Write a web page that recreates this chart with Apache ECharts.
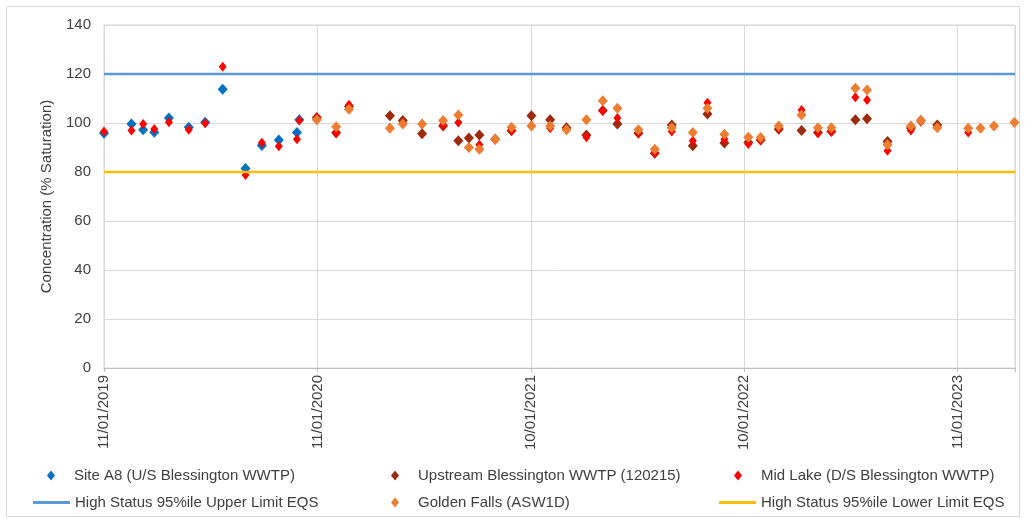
<!DOCTYPE html>
<html>
<head>
    <meta charset="utf-8">
    <title>Dissolved Oxygen</title>
    <script src="https://cdn.jsdelivr.net/npm/echarts@6/dist/echarts.min.js"></script>
    <style>
        html, body { margin: 0; padding: 0; background: #fff; }
        #main { width: 1025px; height: 518px; }
    </style>
</head>
<body>
<div id="main"></div>
<script type="text/javascript">
    // x values are days counted from 11/01/2019
    var tickLabels = ['11/01/2019', '11/01/2020', '10/01/2021', '10/01/2022', '11/01/2023'];
    var xMin = 0;
    var xMax = 1558;

    var siteA8Days = [0, 47, 67, 86, 111, 145, 173, 203, 242, 270, 299, 330, 334];
    var siteA8 = [95.8, 99.6, 97.2, 96.2, 102.0, 98.3, 100.3, 113.8, 81.4, 90.8, 93.1, 96.1, 101.3];
    var midLakeEarly = [96.5, 96.9, 99.6, 97.6, 100.3, 97.2, 99.9, 123.0, 78.8, 91.9, 90.5, 93.4, 101.0];

    var laterDays = [364, 397, 419, 489, 511, 544, 580, 606, 624, 642, 669, 697, 731, 763, 791, 825, 853, 878, 914, 942,
        971, 1007, 1032, 1061, 1102, 1123, 1154, 1193, 1221, 1244, 1285, 1305, 1340, 1380, 1397, 1425, 1478, 1499, 1522, 1557];
    var upstream = [102.2, 96, 106.7, 103.0, 101.0, 95.6, 98.8, 92.8, 93.9, 95.1, 93.4, 96.8, 103.0, 101.3, 98.1, 95.1, 105.1, 99.6, 95.8, 87.7,
        99.2, 90.7, 103.7, 91.8, 92, 93.1, 97.5, 96.9, 96.1, 96.5, 101.3, 101.7, 92.4, 98, 101, 99.2, null, null, null, null];
    var midLakeLate = [102, 95.8, 107.4, 98, 100, 99.5, 99.3, 100.2, 90, 91.1, 93.4, 97, 99, 97.9, 97.5, 94.2, 105, 102.0, 96, 88,
        96.5, 92.8, 108.3, 93.4, 91.4, 93, 98, 105.3, 95.8, 96.5, 110.5, 109.4, 88.7, 96.9, 100.5, 98.5, 96.1, null, null, null];
    var goldenFalls = [101.3, 98.5, 105.6, 97.9, 99.6, 99.6, 101.0, 103.3, 90.0, 89.3, 93.4, 98.3, 98.8, 98.8, 97.2, 101.3, 109.1, 106.0, 97.2, 89.3,
        98.1, 96.1, 106.0, 95.4, 94.2, 94.1, 98.8, 103.3, 98.1, 98.1, 114.2, 113.5, 91.1, 98.8, 101.0, 98.1, 97.9, 97.9, 98.8, 100.2];

    var upperLimit = 120;
    var lowerLimit = 80;

    var names = [
        'Site A8 (U/S Blessington WWTP)',
        'Upstream Blessington WWTP (120215)',
        'Mid Lake (D/S Blessington WWTP)',
        'High Status 95%ile Upper Limit EQS',
        'Golden Falls (ASW1D)',
        'High Status 95%ile Lower Limit EQS'
    ];

    function pairs(days, vals) {
        var out = [];
        for (var i = 0; i < days.length; i++) {
            if (vals[i] !== null) out.push([days[i], vals[i]]);
        }
        return out;
    }

    var font = 'Liberation Sans, Arial, sans-serif';
    var textColor = '#404040';

    // legend: 3 columns x 2 rows, diamonds for points and short bars for the limit lines
    var isLine = [false, false, false, true, false, true];
    var legendPos = [[42, 463], [386, 463], [729, 463], [28, 490], [386, 490], [714, 490]];
    var legends = names.map(function (n, i) {
        var line = isLine[i];
        return {
            data: [{ name: n, icon: line ? 'rect' : 'diamond' }],
            left: legendPos[i][0],
            top: legendPos[i][1],
            itemWidth: line ? 37 : 8,
            itemHeight: line ? 3 : 10,
            selectedMode: false,
            textStyle: {
                fontFamily: font, fontSize: 15, color: textColor,
                padding: [0, 0, 0, line ? 0 : 14]
            }
        };
    });

    var myChart = echarts.init(document.getElementById('main'));
    var option = {
        animation: false,
        backgroundColor: '#fff',
        textStyle: { fontFamily: font },
        graphic: [{
            type: 'rect',
            shape: { x: 6.5, y: 6.5, width: 1013, height: 510 },
            style: { fill: 'none', stroke: '#d9d9d9', lineWidth: 1 },
            silent: true
        }],
        legend: legends,
        grid: {
            left: 104, right: 10, top: 25, bottom: 150,
            show: true, borderColor: '#d9d9d9', borderWidth: 1
        },
        xAxis: {
            type: 'value',
            min: xMin,
            max: xMax,
            interval: 365,
            axisLine: { lineStyle: { color: '#bfbfbf', width: 1 } },
            axisTick: { show: true, length: 4, lineStyle: { color: '#bfbfbf' } },
            splitLine: { lineStyle: { color: '#d9d9d9', width: 1 } },
            axisLabel: {
                rotate: 90,
                margin: 7,
                fontSize: 15,
                color: textColor,
                fontFamily: font,
                formatter: function (v) {
                    if (v % 365 !== 0) return '';
                    return tickLabels[v / 365] || '';
                }
            }
        },
        yAxis: {
            type: 'value',
            min: 0,
            max: 140,
            interval: 20,
            name: 'Concentration (% Saturation)',
            nameLocation: 'middle',
            nameGap: 50,
            nameTextStyle: { fontSize: 15, color: textColor, fontFamily: font },
            axisLine: { show: true, lineStyle: { color: '#d9d9d9' } },
            axisTick: { show: false },
            splitLine: { lineStyle: { color: '#d9d9d9', width: 1 } },
            axisLabel: { fontSize: 15, color: textColor, fontFamily: font, margin: 13 }
        },
        series: [
            {
                name: names[0], type: 'scatter', symbol: 'diamond', symbolSize: [10, 11],
                itemStyle: { color: '#0070c0', opacity: 1 },
                data: pairs(siteA8Days, siteA8)
            },
            {
                name: names[1], type: 'scatter', symbol: 'diamond', symbolSize: [10, 11],
                itemStyle: { color: '#9c2a0b', opacity: 1 },
                data: pairs(laterDays, upstream)
            },
            {
                name: names[2], type: 'scatter', symbol: 'diamond', symbolSize: [8, 10],
                itemStyle: { color: '#ff0000', opacity: 1 },
                data: pairs(siteA8Days.concat(laterDays), midLakeEarly.concat(midLakeLate))
            },
            {
                name: names[3], type: 'line', symbol: 'none',
                lineStyle: { color: '#5b9bd5', width: 2.5 },
                itemStyle: { color: '#5b9bd5' },
                data: [[xMin, upperLimit], [xMax, upperLimit]]
            },
            {
                name: names[4], type: 'scatter', symbol: 'diamond', symbolSize: [10, 11],
                itemStyle: { color: '#ed7d31', opacity: 1 },
                data: pairs(laterDays, goldenFalls)
            },
            {
                name: names[5], type: 'line', symbol: 'none',
                lineStyle: { color: '#ffc000', width: 2.5 },
                itemStyle: { color: '#ffc000' },
                data: [[xMin, lowerLimit], [xMax, lowerLimit]]
            }
        ]
    };
    myChart.setOption(option);
    window.onresize = myChart.resize;
</script>
</body>
</html>
